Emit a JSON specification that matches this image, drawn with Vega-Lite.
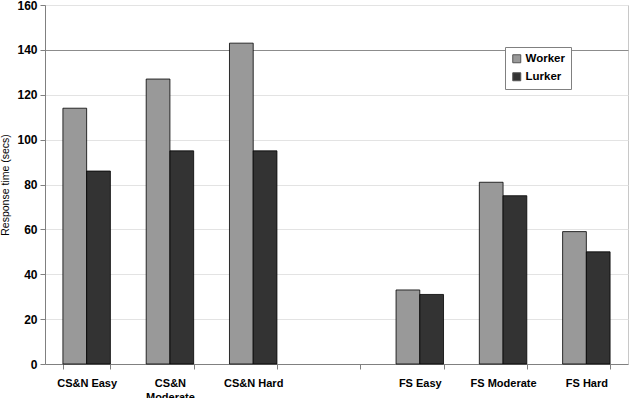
{
  "$schema": "https://vega.github.io/schema/vega-lite/v6.json",
  "width": 583,
  "height": 359,
  "autosize": "none",
  "padding": {"left": 45, "top": 5, "right": 2, "bottom": 34},
  "background": "white",
  "config": {
    "font": "Liberation Sans",
    "view": {"stroke": "#c8c8c8", "strokeWidth": 1}
  },
  "data": {
    "values": [
      {"task": "CS&N Easy", "group": "Worker", "time": 114},
      {"task": "CS&N Easy", "group": "Lurker", "time": 86},
      {"task": "CS&N Moderate", "group": "Worker", "time": 127},
      {"task": "CS&N Moderate", "group": "Lurker", "time": 95},
      {"task": "CS&N Hard", "group": "Worker", "time": 143},
      {"task": "CS&N Hard", "group": "Lurker", "time": 95},
      {"task": "FS Easy", "group": "Worker", "time": 33},
      {"task": "FS Easy", "group": "Lurker", "time": 31},
      {"task": "FS Moderate", "group": "Worker", "time": 81},
      {"task": "FS Moderate", "group": "Lurker", "time": 75},
      {"task": "FS Hard", "group": "Worker", "time": 59},
      {"task": "FS Hard", "group": "Lurker", "time": 50}
    ]
  },
  "mark": {"type": "bar", "stroke": "#000000", "strokeWidth": 0.8},
  "encoding": {
    "x": {
      "field": "task",
      "type": "nominal",
      "scale": {
        "domain": ["CS&N Easy", "CS&N Moderate", "CS&N Hard", " ", "FS Easy", "FS Moderate", "FS Hard"],
        "paddingInner": 0.43,
        "paddingOuter": 0.215
      },
      "axis": {
        "title": null,
        "labelAngle": 0,
        "labelFont": "Liberation Sans",
        "labelFontWeight": "bold",
        "labelFontSize": 11,
        "labelColor": "#000000",
        "labelPadding": 8,
        "labelExpr": "datum.label == 'CS&N Moderate' ? ['CS&N', 'Moderate'] : datum.label",
        "labelLineHeight": 14,
        "tickBand": "extent",
        "tickSize": 5,
        "tickColor": "#808080",
        "domainColor": "#808080",
        "grid": false
      }
    },
    "xOffset": {
      "field": "group",
      "type": "nominal",
      "scale": {"domain": ["Worker", "Lurker"], "paddingInner": 0, "paddingOuter": 0}
    },
    "y": {
      "field": "time",
      "type": "quantitative",
      "scale": {"domain": [0, 160], "nice": false},
      "axis": {
        "title": "Response time (secs)",
        "titleFont": "Liberation Sans",
        "titleFontSize": 10.5,
        "titleFontWeight": "normal",
        "titleColor": "#000000",
        "titlePadding": 6,
        "values": [0, 20, 40, 60, 80, 100, 120, 140, 160],
        "labelFont": "Liberation Sans",
        "labelFontWeight": "bold",
        "labelFontSize": 12,
        "labelColor": "#000000",
        "labelPadding": 3,
        "tickSize": 5,
        "tickColor": "#808080",
        "domainColor": "#808080",
        "grid": true,
        "gridColor": {"condition": {"test": "datum.value === 140", "value": "#8c8c8c"}, "value": "#e3e3e3"}
      }
    },
    "color": {
      "field": "group",
      "type": "nominal",
      "scale": {"domain": ["Worker", "Lurker"], "range": ["#999999", "#333333"]},
      "legend": {
        "title": null,
        "orient": "none",
        "legendX": 460,
        "legendY": 42,
        "symbolType": "square",
        "symbolSize": 64,
        "symbolStrokeColor": "#555555",
        "symbolStrokeWidth": 1,
        "labelFont": "Liberation Sans",
        "labelFontWeight": "bold",
        "labelFontSize": 11.5,
        "labelColor": "#000000",
        "labelOffset": 3,
        "rowPadding": 5,
        "padding": 6,
        "fillColor": "white",
        "strokeColor": "#808080"
      }
    }
  }
}
